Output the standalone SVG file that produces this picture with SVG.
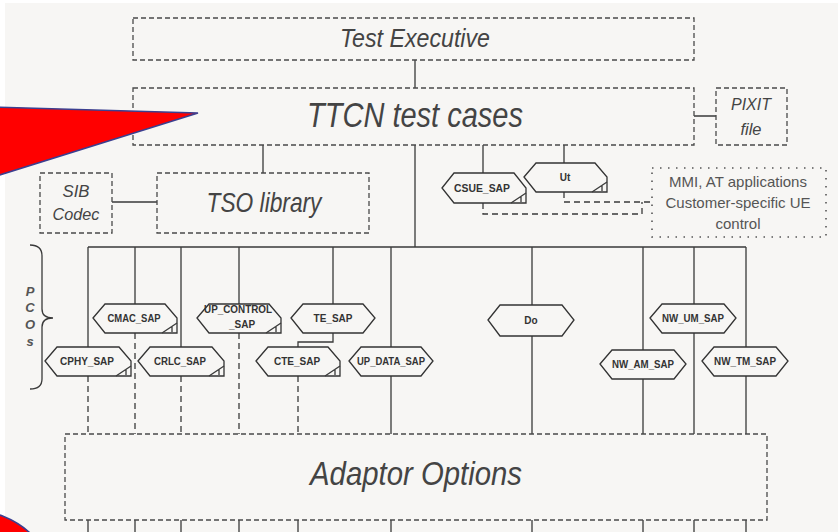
<svg xmlns="http://www.w3.org/2000/svg" width="838" height="532" viewBox="0 0 838 532">
<defs>
<style>
.box{fill:none;stroke:#4a4a4a;stroke-width:1.3;stroke-dasharray:5,3}
.dot{fill:none;stroke:#555;stroke-width:1.6;stroke-dasharray:1.5,6.5}
.ln{fill:none;stroke:#3a3a3a;stroke-width:1.3}
.dl{fill:none;stroke:#3a3a3a;stroke-width:1.3;stroke-dasharray:6,4}
.hex{fill:#f7f6f4;stroke:#333;stroke-width:1.3}
.big{font-family:"Liberation Sans",Arial,sans-serif;font-style:italic;fill:#444;text-anchor:middle}
.lab{font-family:"Liberation Sans",Arial,sans-serif;font-weight:bold;font-size:10px;fill:#333;text-anchor:middle}
.mmi{font-family:"Liberation Sans",Arial,sans-serif;font-size:15px;fill:#555;text-anchor:middle}
.pco{font-family:"Liberation Sans",Arial,sans-serif;font-style:italic;font-weight:bold;font-size:13px;fill:#555;text-anchor:middle}
.red{fill:#ff0000;stroke:#3b3f90;stroke-width:1.5}
</style>
</defs>
<rect x="0" y="0" width="838" height="532" fill="#ffffff"/>
<rect x="5" y="3" width="833" height="529" fill="#f7f6f4"/>

<g id="connectors">
<path class="ln" d="M415,60V88M415,145V247M263,145V173M483,145V173M564,145V163M112,202H157M694,116H716"/>
<path class="ln" d="M88,247H746M88,247V347M135,247V304M181,247V347M239,247V304M333,247V304M391,247V347M532,247V305M643,247V350M694,247V304M746,247V347"/>
<path class="ln" d="M333,333V342H298V347"/>
<path class="dl" d="M88,376V434M135,333V434M181,376V434M239,333V434M298,376V434"/>
<path class="ln" d="M391,376V434M532,336V434M643,379V434M694,333V434M746,376V434"/>
<path class="ln" d="M88,520V532M135,520V532M181,520V532M239,520V532M298,520V532M391,520V532M532,520V532M643,520V532M694,520V532M746,520V532"/>
<path class="dl" d="M564,192V202H650M483,203V214H642V202"/>
</g>

<g id="test-executive">
<rect class="box" x="133" y="18" width="561" height="42"/>
<text class="big" x="415" y="47" font-size="26" textLength="150" lengthAdjust="spacingAndGlyphs">Test Executive</text>
</g>
<g id="ttcn-test-cases">
<rect class="box" x="133" y="88" width="561" height="57"/>
<text class="big" x="415" y="127" font-size="35" textLength="216" lengthAdjust="spacingAndGlyphs">TTCN test cases</text>
</g>
<g id="pixit-file">
<rect class="box" x="716" y="88" width="71" height="57"/>
<text class="big" x="751" y="110" font-size="17" textLength="40" lengthAdjust="spacingAndGlyphs">PIXIT</text>
<text class="big" x="751" y="135" font-size="17" textLength="21" lengthAdjust="spacingAndGlyphs">file</text>
</g>
<g id="sib-codec">
<rect class="box" x="40" y="173" width="72" height="60"/>
<text class="big" x="76" y="197" font-size="17" textLength="27" lengthAdjust="spacingAndGlyphs">SIB</text>
<text class="big" x="76" y="220" font-size="17" textLength="47" lengthAdjust="spacingAndGlyphs">Codec</text>
</g>
<g id="tso-library">
<rect class="box" x="157" y="173" width="212" height="60"/>
<text class="big" x="264" y="212" font-size="28" textLength="115" lengthAdjust="spacingAndGlyphs">TSO library</text>
</g>
<g id="mmi">
<rect class="dot" x="652" y="168" width="174" height="69"/>
<text class="mmi" x="738" y="187">MMI, AT applications</text>
<text class="mmi" x="738" y="208">Customer-specific UE</text>
<text class="mmi" x="738" y="229">control</text>
</g>
<g id="adaptor-options">
<rect class="box" x="65" y="434" width="702" height="86"/>
<text class="big" x="416" y="485" font-size="33" textLength="212" lengthAdjust="spacingAndGlyphs">Adaptor Options</text>
</g>

<g id="pcos">
<path class="ln" d="M30,245Q42,245 42,256V309Q42,318 53,318Q42,318 42,327V379Q42,389 30,389"/>
<text class="pco" x="30" y="296">P</text>
<text class="pco" x="30" y="312">C</text>
<text class="pco" x="30" y="329">O</text>
<text class="pco" x="30" y="346">s</text>
</g>

<g id="csue-sap">
<path class="hex" d="M442,188L454,173H514L526,188V203H454Z"/>
<path class="ln" d="M511,203L526,193M521,196V202"/>
<text class="lab" x="482" y="192" textLength="56" lengthAdjust="spacingAndGlyphs">CSUE_SAP</text>
</g>
<g id="ut">
<path class="hex" d="M524,177L536,163H595L607,177V192H536Z"/>
<path class="ln" d="M592,192L607,182M602,185V191"/>
<text class="lab" x="565" y="181">Ut</text>
</g>
<g id="cmac-sap">
<path class="hex" d="M93,318L105,304H165L177,318V333H105Z"/>
<path class="ln" d="M162,333L177,323M172,326V332"/>
<text class="lab" x="134" y="322" textLength="53" lengthAdjust="spacingAndGlyphs">CMAC_SAP</text>
</g>
<g id="up-control-sap">
<path class="hex" d="M197,318L209,304H269L281,318V333H209Z"/>
<path class="ln" d="M266,333L281,323M276,326V332"/>
<text class="lab" x="238" y="313" textLength="68" lengthAdjust="spacingAndGlyphs">UP_CONTROL</text>
<text class="lab" x="242" y="328">_SAP</text>
</g>
<g id="te-sap">
<path class="hex" d="M291,318L303,304H363L375,318L363,333H303Z"/>
<text class="lab" x="333" y="322">TE_SAP</text>
</g>
<g id="do">
<path class="hex" d="M488,320L500,305H562L574,320L562,336H500Z"/>
<text class="lab" x="531" y="324">Do</text>
</g>
<g id="nw-um-sap">
<path class="hex" d="M650,318L662,304H724L736,318L724,333H662Z"/>
<text class="lab" x="693" y="322" textLength="62" lengthAdjust="spacingAndGlyphs">NW_UM_SAP</text>
</g>
<g id="cphy-sap">
<path class="hex" d="M45,361L57,347H119L131,361V376H57Z"/>
<path class="ln" d="M116,376L131,366M126,369V375"/>
<text class="lab" x="87" y="365" textLength="54" lengthAdjust="spacingAndGlyphs">CPHY_SAP</text>
</g>
<g id="crlc-sap">
<path class="hex" d="M138,361L150,347H212L224,361V376H150Z"/>
<path class="ln" d="M209,376L224,366M219,369V375"/>
<text class="lab" x="180" y="365" textLength="52" lengthAdjust="spacingAndGlyphs">CRLC_SAP</text>
</g>
<g id="cte-sap">
<path class="hex" d="M256,361L268,347H328L340,361V376H268Z"/>
<path class="ln" d="M325,376L340,366M335,369V375"/>
<text class="lab" x="297" y="365">CTE_SAP</text>
</g>
<g id="up-data-sap">
<path class="hex" d="M349,361L361,347H421L433,361L421,376H361Z"/>
<text class="lab" x="391" y="365" textLength="68" lengthAdjust="spacingAndGlyphs">UP_DATA_SAP</text>
</g>
<g id="nw-am-sap">
<path class="hex" d="M600,364L612,350H674L686,364L674,379H612Z"/>
<text class="lab" x="643" y="368" textLength="62" lengthAdjust="spacingAndGlyphs">NW_AM_SAP</text>
</g>
<g id="nw-tm-sap">
<path class="hex" d="M702,361L714,347H776L788,361L776,376H714Z"/>
<text class="lab" x="745" y="365" textLength="62" lengthAdjust="spacingAndGlyphs">NW_TM_SAP</text>
</g>

<g id="red-callout">
<path class="red" d="M-10,107L198,113L-10,178Z"/>
</g>
<g id="red-circle">
<circle class="red" cx="-30" cy="600" r="90"/>
</g>
</svg>
